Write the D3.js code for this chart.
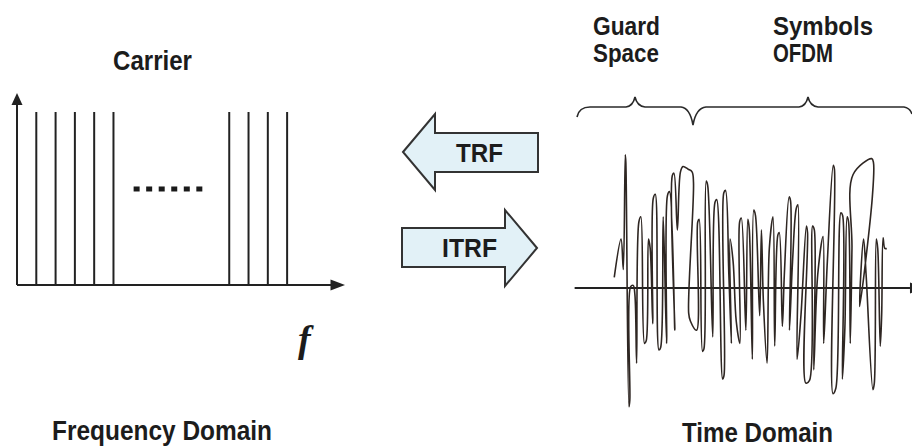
<!DOCTYPE html>
<html>
<head>
<meta charset="utf-8">
<script src="https://cdn.jsdelivr.net/npm/d3@7"></script>
<style>
  html, body { margin: 0; padding: 0; background: #fff; }
  svg { display: block; }
  text { font-family: "Liberation Sans", Arial, sans-serif; font-weight: bold; fill: #1c1c1c; }
</style>
</head>
<body>
<svg id="chart" width="912" height="447"></svg>
<script>
// ---------- data ----------
const carrierFreqs = [1, 2, 3, 4, 5, 11, 12, 13, 14];
const carrierAmps  = [1, 1, 1, 1, 1, 1, 1, 1, 1];
const ellipsisFreqs = [6.2, 6.85, 7.5, 8.15, 8.8, 9.45];

const signalT = [1.5, 3.9, 4.7, 5.4, 5.6, 6.7, 7.0, 7.3, 8.2, 8.8, 9.4, 10.2, 10.9, 12.2, 12.8, 13.6,
  14.2, 15.1, 15.3, 16.0, 17.3, 17.9, 18.8, 20.0, 20.3, 21.0, 22.9, 22.0, 22.6, 23.8, 24.9, 25.8,
  27.6, 29.0, 29.5, 27.8, 28.4, 30.6, 31.0, 31.5, 32.7, 33.2, 34.0, 34.5, 36.3, 37.1, 37.7, 39.8,
  40.3, 40.2, 40.8, 42.0, 42.9, 42.4, 43.5, 44.6, 45.9, 45.8, 46.4, 48.0, 48.7, 49.2, 50.3, 50.8,
  51.4, 52.9, 53.5, 54.2, 55.5, 56.3, 57.6, 58.2, 59.3, 59.8, 60.9, 61.6, 63.3, 63.8, 63.4, 64.5,
  65.8, 66.4, 66.1, 67.5, 69.4, 69.8, 69.2, 70.5, 71.6, 72.2, 72.0, 73.4, 75.3, 75.5, 76.8, 78.9,
  79.3, 78.8, 79.8, 81.6, 82.2, 82.1, 83.0, 83.8, 84.3, 84.9, 85.5, 85.9, 92.5, 93.1, 92.7, 88.2,
  89.6, 90.5, 92.9, 93.4, 94.1, 94.6, 95.5, 96.0, 96.5, 97.1, 97.8];
const signalA = [0.08, 0.37, 0.14, 1.01, 0.95, -0.90, -0.85, 0.01, 0.02, -0.05, -0.57, 0.50, 0.54, -0.42, -0.40, 0.37,
  0.30, -0.27, 0.68, 0.71, -0.47, -0.45, 0.54, -0.42, 0.70, 0.73, -0.32, 0.85, 0.87, 0.44, 0.88, 0.92,
  0.90, 0.88, 0.80, -0.19, -0.25, -0.32, 0.50, 0.52, -0.48, -0.46, 0.81, 0.78, -0.37, 0.65, 0.67, -0.69,
  -0.66, 0.72, 0.74, 0.10, -0.42, 0.37, 0.20, -0.25, -0.42, 0.50, 0.53, -0.32, 0.52, 0.45, -0.54, 0.59,
  0.55, -0.21, 0.44, -0.10, -0.57, 0.30, 0.54, -0.44, 0.40, 0.42, -0.29, 0.10, 0.69, 0.66, -0.32, 0.20,
  0.60, 0.63, -0.54, -0.20, 0.47, 0.42, -0.72, -0.70, 0.47, 0.44, -0.62, 0.10, 0.39, -0.42, 0.20, 0.93,
  0.90, -0.80, -0.76, 0.57, 0.55, -0.69, -0.30, 0.54, 0.50, -0.42, 0.30, 0.86, 0.98, 0.95, 0.69, -0.14,
  0.37, 0.10, -0.77, -0.72, 0.37, 0.30, -0.44, -0.20, 0.38, 0.30, 0.30];

const labels = {
  carrier: "Carrier", freqDomain: "Frequency Domain", timeDomain: "Time Domain",
  guard: ["Guard", "Space"], symbols: ["Symbols", "OFDM"], trf: "TRF", itrf: "ITRF", f: "f"
};

// ---------- drawing ----------
const svg = d3.select("#chart");
const ink = "#222";

// Frequency-domain scales
const xF = d3.scaleLinear().domain([0, 17]).range([17, 345]);
const yF = d3.scaleLinear().domain([0, 1]).range([285, 112]);

svg.append("line").attr("x1", xF(0)).attr("x2", xF(16.3)).attr("y1", yF(0)).attr("y2", yF(0))
  .attr("stroke", ink).attr("stroke-width", 2);
svg.append("path").attr("d", `M${xF(17)},${yF(0)} L${xF(16.25)},${yF(0)-5.5} L${xF(16.25)},${yF(0)+5.5} Z`).attr("fill", ink);
svg.append("line").attr("x1", xF(0)).attr("x2", xF(0)).attr("y1", yF(0)).attr("y2", yF(1.05))
  .attr("stroke", ink).attr("stroke-width", 2);
svg.append("path").attr("d", `M${xF(0)},${yF(1.11)} L${xF(0)-5.5},${yF(1.04)} L${xF(0)+5.5},${yF(1.04)} Z`).attr("fill", ink);

svg.append("g").selectAll("line").data(carrierFreqs).join("line")
  .attr("x1", d => xF(d)).attr("x2", d => xF(d))
  .attr("y1", yF(0)).attr("y2", (d, i) => yF(carrierAmps[i]))
  .attr("stroke", ink).attr("stroke-width", 2);

svg.append("g").selectAll("rect").data(ellipsisFreqs).join("rect")
  .attr("x", d => xF(d) - 3).attr("y", yF(0.555) - 2.5).attr("width", 6).attr("height", 5)
  .attr("fill", "#1a1a1a");

// Time-domain scales
const xT = d3.scaleLinear().domain([0, 100]).range([610, 893]);
const yT = d3.scaleLinear().domain([-1, 1]).range([420, 156]);

svg.append("line").attr("x1", xT(-12.5)).attr("x2", xT(106)).attr("y1", yT(0)).attr("y2", yT(0))
  .attr("stroke", ink).attr("stroke-width", 2);
svg.append("path").attr("d", `M${xT(106)},${yT(0)-5.5} L${xT(112)},${yT(0)} L${xT(106)},${yT(0)+5.5} Z`).attr("fill", ink);

const signal = signalT.map((t, i) => ({ t, a: signalA[i] }));
svg.append("path").datum(signal)
  .attr("d", d3.line().x(d => xT(d.t)).y(d => yT(d.a)).curve(d3.curveCatmullRom.alpha(0.5)))
  .attr("fill", "none").attr("stroke", "#2e2622").attr("stroke-width", 1.6).attr("stroke-linejoin", "round");

// braces
svg.append("path")
  .attr("d", "M577,117 Q579,107 590,107 L626,107 Q633,106 635,97 Q637,106 645,107 L681,107 Q690,108 693,125 Q696,108 706,107 L799,107 Q806,106 808,97 Q810,106 818,107 L904,107 Q910,108 912,114")
  .attr("fill", "none").attr("stroke", "#2a2a2a").attr("stroke-width", 1.6);

// transform arrows
const arrowFill = "#e2f1f7";
svg.append("path")
  .attr("d", "M403,152 L435,114 L435,133 L538,133 L538,172 L435,172 L435,190 Z")
  .attr("fill", arrowFill).attr("stroke", "#333").attr("stroke-width", 2);
svg.append("path")
  .attr("d", "M537,248 L505,210 L505,228 L402,228 L402,267 L505,267 L505,286 Z")
  .attr("fill", arrowFill).attr("stroke", "#333").attr("stroke-width", 2);

// texts
function label(txt, x, y, size, width) {
  svg.append("text").attr("x", x).attr("y", y).attr("font-size", size)
    .attr("textLength", width).attr("lengthAdjust", "spacingAndGlyphs").text(txt);
}
label(labels.carrier, 113, 70, 27, 79);
label(labels.guard[0], 593, 35, 25, 67);
label(labels.guard[1], 593, 62, 25, 66);
label(labels.symbols[0], 773, 35, 25, 100);
label(labels.symbols[1], 773, 62, 25, 60);
label(labels.trf, 456, 162, 26, 47);
label(labels.itrf, 442, 257, 26, 55);
label(labels.freqDomain, 52, 440, 27, 220);
label(labels.timeDomain, 682, 442, 28, 151);

svg.append("text").attr("x", 298).attr("y", 352).attr("font-size", 38)
  .style("font-family", "'Liberation Serif', 'Times New Roman', serif").style("font-style", "italic")
  .text(labels.f);
</script>
</body>
</html>
